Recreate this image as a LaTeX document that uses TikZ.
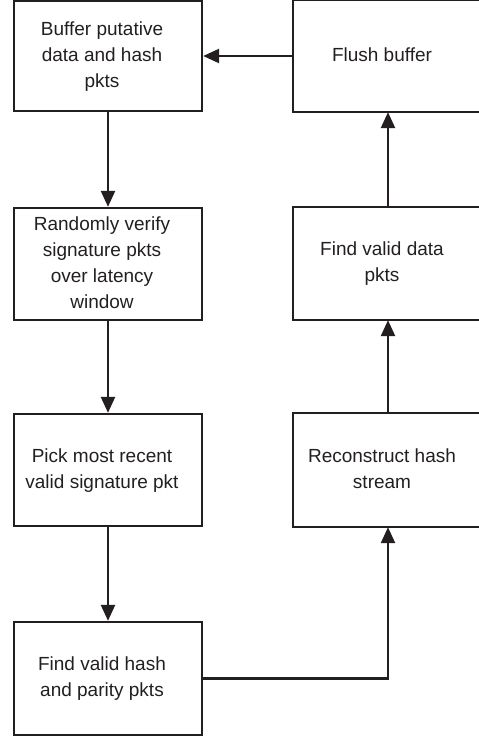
\documentclass[tikz,border=0pt]{standalone}
\usepackage{fontspec}
\setmainfont{Liberation Sans}
\usetikzlibrary{arrows.meta}
\definecolor{ink}{HTML}{231F20}
\newcommand\boxlbl[1]{\begin{tabular}{@{}c@{}}#1\end{tabular}\hspace*{12pt}}
\begin{document}
\begin{tikzpicture}[x=1pt,y=-1pt,
  edge/.style={draw=ink,line width=2.3pt},
  box/.style={edge,rectangle,minimum width=188pt,text=ink,
    font=\fontsize{19pt}{26pt}\selectfont,inner sep=0pt},
  openbox/.style={box,draw=none},
  conn/.style={edge,-{Triangle[length=16pt,width=14pt]}}]
\useasboundingbox (0,0) rectangle (479,736);
\clip (0,0) rectangle (479,736);
\node[box,minimum height=110pt] (b1) at (108,56) {\boxlbl{Buffer putative\\data and hash\\pkts}};
\node[box,minimum height=112pt] (b2) at (108,264) {\boxlbl{Randomly verify\\signature pkts\\over latency\\window}};
\node[box,minimum height=112pt] (b3) at (108,470) {\boxlbl{Pick most recent\\valid signature pkt}};
\node[box,minimum height=113pt] (b4) at (108,678.5) {\boxlbl{Find valid hash\\and parity pkts}};
\node[openbox,minimum height=110pt] (b5) at (388,56) {\boxlbl{Flush buffer}};
\node[openbox,minimum height=111pt] (b6) at (388,263.5) {\boxlbl{Find valid data\\pkts}};
\node[openbox,minimum height=112pt] (b7) at (388,470) {\boxlbl{Reconstruct hash\\stream}};
\foreach \b in {b5,b6,b7}
  \draw[edge] ([xshift=20pt]\b.north east) -- (\b.north west) -- (\b.south west) -- ([xshift=20pt]\b.south east);
\draw[conn] (b1) -- (b2);
\draw[conn] (b2) -- (b3);
\draw[conn] (b3) -- (b4);
\draw[conn] (b4.east) -| (b7.south);
\draw[conn] (b7) -- (b6);
\draw[conn] (b6) -- (b5);
\draw[conn] (b5) -- (b1);
\end{tikzpicture}
\end{document}
